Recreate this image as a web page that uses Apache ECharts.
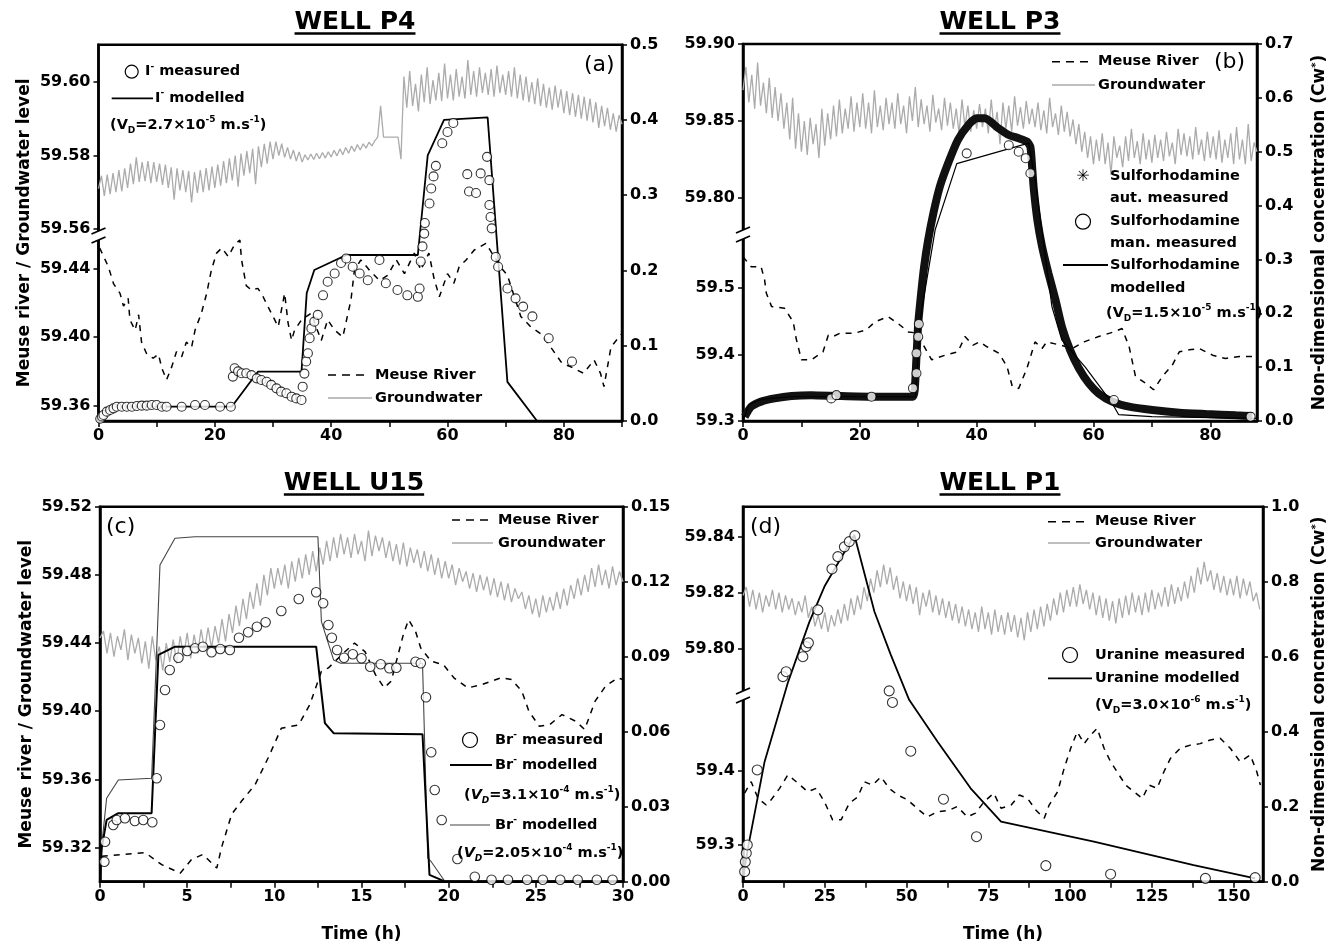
<!DOCTYPE html>
<html>
<head>
<meta charset="utf-8">
<script src="https://cdn.jsdelivr.net/npm/echarts@6/dist/echarts.min.js"></script>
<style>
  html, body { margin: 0; padding: 0; background: #fff; }
  #chart { width: 1337px; height: 949px; }
</style>
</head>
<body>
<div id="chart"></div>
<script>
// ---------- WELL P4 (a) ----------
const gwA_dt = 0.5 // h between groundwater readings
const gwA = [
  59.5710,
  59.5745, 59.5690, 59.5748, 59.5695, 59.5752, 59.5700, 59.5760, 59.5702, 59.5765, 59.5712,
  59.5778, 59.5722, 59.5795, 59.5728, 59.5782, 59.5730, 59.5785, 59.5725, 59.5782, 59.5728,
  59.5778, 59.5720, 59.5775, 59.5712, 59.5768, 59.5680, 59.5765, 59.5705, 59.5760, 59.5700,
  59.5758, 59.5672, 59.5755, 59.5698, 59.5760, 59.5700, 59.5766, 59.5705, 59.5770, 59.5712,
  59.5775, 59.5718, 59.5785, 59.5725, 59.5792, 59.5732, 59.5800, 59.5715, 59.5805, 59.5745,
  59.5812, 59.5752, 59.5818, 59.5722, 59.5825, 59.5768, 59.5832, 59.5778, 59.5838, 59.5790,
  59.5838, 59.5800, 59.5832, 59.5795, 59.5822, 59.5790, 59.5815, 59.5785, 59.5810, 59.5782,
  59.5802, 59.5788, 59.5804, 59.5789, 59.5806, 59.5791, 59.5808, 59.5793, 59.5810, 59.5796,
  59.5814, 59.5799, 59.5818, 59.5802, 59.5822, 59.5806, 59.5826, 59.5811, 59.5830, 59.5815,
  59.5832, 59.5820, 59.5836, 59.5826, 59.5840, 59.5850, 59.5935, 59.5850, 59.5850, 59.5850,
  59.5850, 59.5850, 59.5850, 59.5790, 59.6015, 59.5930, 59.6030, 59.5935, 59.5995, 59.5920,
  59.6020, 59.5945, 59.6040, 59.5940, 59.6005, 59.5950, 59.6025, 59.5948, 59.6050, 59.5955,
  59.6020, 59.5950, 59.6035, 59.5960, 59.6015, 59.5955, 59.6060, 59.5965, 59.6030, 59.5960,
  59.6040, 59.5970, 59.6025, 59.5965, 59.6035, 59.5960, 59.6045, 59.5970, 59.6020, 59.5965,
  59.6030, 59.5960, 59.6040, 59.5955, 59.6020, 59.5950, 59.6015, 59.5945, 59.6000, 59.5940,
  59.6010, 59.5935, 59.5995, 59.5930, 59.5985, 59.5925, 59.5990, 59.5930, 59.5980, 59.5915,
  59.5975, 59.5910, 59.5970, 59.5905, 59.5965, 59.5900, 59.5960, 59.5895, 59.5955, 59.5890,
  59.5945, 59.5875, 59.5935, 59.5880, 59.5930, 59.5870, 59.5915, 59.5865, 59.5910, 59.5885
]
const riverA = [
  [0.2, 59.452], [1.7, 59.441], [2.6, 59.431], [3.7, 59.4255], [4.3, 59.418], [5.1, 59.4226], [5.4, 59.41],
  [6.3, 59.404], [6.9, 59.413], [7.4, 59.397], [8.3, 59.39], [9.4, 59.3876], [10.3, 59.39], [10.9, 59.3817],
  [11.7, 59.375], [12.6, 59.3827], [13.4, 59.3914], [14.3, 59.3885], [15.1, 59.397], [16.0, 59.394],
  [16.6, 59.404], [17.7, 59.414], [18.6, 59.4255], [19.4, 59.439], [20.3, 59.449], [21.2, 59.452],
  [22.3, 59.447], [23.4, 59.454], [24.3, 59.4566], [24.6, 59.445], [25.4, 59.430], [26.3, 59.4274],
  [27.4, 59.4284], [28.3, 59.4235], [29.1, 59.418], [30.0, 59.412], [30.9, 59.406], [32.0, 59.4255],
  [32.6, 59.408], [33.2, 59.398], [33.7, 59.404], [34.9, 59.41], [36.6, 59.414], [37.4, 59.406],
  [38.3, 59.398], [39.4, 59.41], [40.6, 59.404], [42.0, 59.400], [43.4, 59.4216], [44.0, 59.439],
  [45.1, 59.445], [46.6, 59.439], [48.3, 59.433], [49.7, 59.436], [51.2, 59.445], [52.6, 59.437],
  [54.3, 59.449], [55.4, 59.439], [56.8, 59.449], [57.7, 59.434], [58.6, 59.4235], [60.0, 59.437],
  [61.1, 59.4314], [62.0, 59.441], [63.2, 59.445], [64.6, 59.4508], [66.6, 59.4547], [68.0, 59.447],
  [69.1, 59.441], [70.3, 59.436], [72.6, 59.412], [74.3, 59.406], [76.0, 59.402], [77.7, 59.3943],
  [79.7, 59.3846], [81.2, 59.3826], [83.4, 59.3788], [85.2, 59.3866], [86.3, 59.3788], [86.9, 59.371],
  [88.1, 59.394], [89.0, 59.398], [90.0, 59.402]
]
const iodideModelled = [
  [0, 0], [1.5, 0.016], [3, 0.019], [22.9, 0.019], [27.4, 0.0655], [34.9, 0.0655], [35.8, 0.17],
  [37.1, 0.2006], [42.6, 0.2206], [54.9, 0.2206], [56.6, 0.353], [59.4, 0.40], [66.9, 0.4035],
  [70.3, 0.052], [75.4, 0]
]
const iodideMeasured = [
  [0.3, 0.003], [0.6, 0.006], [0.86, 0.008], [1.43, 0.0124], [2.0, 0.0146], [2.57, 0.0168], [3.14, 0.019],
  [4.0, 0.019], [4.87, 0.019], [5.73, 0.019], [6.6, 0.020], [7.44, 0.0204], [8.3, 0.0204], [9.15, 0.0213],
  [10.0, 0.0213], [10.9, 0.019], [11.7, 0.019], [14.3, 0.019], [16.6, 0.0213], [18.3, 0.0213], [20.9, 0.019],
  [22.75, 0.019], [23.1, 0.059], [23.4, 0.07], [24.0, 0.066], [24.6, 0.0634], [25.4, 0.0634], [26.3, 0.061],
  [27.2, 0.0567], [28.0, 0.0545], [28.9, 0.0522], [29.7, 0.048], [30.6, 0.0434], [31.4, 0.039], [32.3, 0.0368],
  [33.2, 0.0323], [34.0, 0.030], [34.9, 0.028], [35.1, 0.0456], [35.4, 0.063], [35.7, 0.079], [36.0, 0.09],
  [36.3, 0.11], [36.6, 0.123], [37.1, 0.132], [37.7, 0.141], [38.6, 0.167], [39.4, 0.185], [40.6, 0.196],
  [41.7, 0.21], [42.6, 0.216], [43.7, 0.205], [44.9, 0.196], [46.3, 0.187], [48.3, 0.214], [49.4, 0.183],
  [51.4, 0.174], [53.1, 0.167], [54.9, 0.165], [55.2, 0.176], [55.4, 0.212], [55.7, 0.232], [56.0, 0.249],
  [56.1, 0.263], [56.9, 0.289], [57.2, 0.309], [57.6, 0.325], [58.0, 0.339], [59.1, 0.369], [60.0, 0.384],
  [61.0, 0.396], [63.4, 0.328], [63.7, 0.305], [64.9, 0.303], [65.7, 0.329], [66.8, 0.351], [67.2, 0.32],
  [67.2, 0.287], [67.4, 0.271], [67.6, 0.256], [68.3, 0.218], [68.7, 0.205], [70.3, 0.176], [71.7, 0.163],
  [73.0, 0.152], [74.6, 0.139], [77.4, 0.11], [81.4, 0.079]
]
const xTicksA = [0, 10, 20, 30, 40, 50, 60, 70, 80, 90]
const xLabelsA = [0, 20, 40, 60, 80]
const upperTicksA = [59.56, 59.58, 59.60]
const lowerTicksA = [59.36, 59.40, 59.44]
const rightTicksA = [0, 0.1, 0.2, 0.3, 0.4, 0.5]

// ---------- WELL P3 (b) ----------
const gwB_dt = 0.5
const gwB = [
  59.870,
  59.885, 59.862, 59.880, 59.858, 59.888, 59.860, 59.875, 59.855, 59.878, 59.852,
  59.872, 59.850, 59.868, 59.845, 59.862, 59.838, 59.865, 59.832, 59.855, 59.830,
  59.850, 59.828, 59.852, 59.835, 59.848, 59.826, 59.858, 59.834, 59.855, 59.838,
  59.860, 59.840, 59.864, 59.842, 59.858, 59.845, 59.866, 59.843, 59.862, 59.846,
  59.868, 59.845, 59.862, 59.842, 59.870, 59.846, 59.860, 59.844, 59.865, 59.848,
  59.862, 59.845, 59.868, 59.848, 59.860, 59.842, 59.866, 59.850, 59.872, 59.846,
  59.864, 59.848, 59.860, 59.843, 59.867, 59.849, 59.858, 59.844, 59.865, 59.847,
  59.862, 59.845, 59.858, 59.842, 59.864, 59.846, 59.860, 59.843, 59.857, 59.845,
  59.861, 59.846, 59.858, 59.842, 59.864, 59.844, 59.856, 59.835, 59.862, 59.845,
  59.860, 59.843, 59.866, 59.847, 59.859, 59.845, 59.863, 59.848, 59.858, 59.846,
  59.862, 59.844, 59.857, 59.842, 59.865, 59.846, 59.855, 59.841, 59.860, 59.843,
  59.856, 59.840, 59.851, 59.835, 59.848, 59.830, 59.843, 59.826, 59.840, 59.822,
  59.838, 59.824, 59.842, 59.822, 59.836, 59.815, 59.840, 59.826, 59.834, 59.820,
  59.840, 59.824, 59.845, 59.826, 59.837, 59.822, 59.842, 59.825, 59.838, 59.823,
  59.841, 59.826, 59.838, 59.824, 59.843, 59.827, 59.836, 59.822, 59.845, 59.828,
  59.842, 59.827, 59.840, 59.825, 59.846, 59.828, 59.838, 59.824, 59.843, 59.826,
  59.840, 59.825, 59.844, 59.823, 59.838, 59.826, 59.842, 59.822, 59.846, 59.825,
  59.838, 59.822, 59.848, 59.824, 59.836, 59.830
]
const riverB = [
  [0, 59.547], [1.4, 59.532], [3.1, 59.532], [3.7, 59.512], [4.0, 59.492], [4.9, 59.472], [7.1, 59.4695],
  [8.6, 59.449], [9.1, 59.424], [10.0, 59.392], [11.7, 59.392], [13.7, 59.404], [14.6, 59.429], [15.4, 59.427],
  [16.6, 59.432], [19.1, 59.432], [21.1, 59.437], [22.6, 59.449], [24.8, 59.457], [26.5, 59.447], [28.3, 59.434],
  [30.0, 59.432], [30.9, 59.414], [32.3, 59.392], [34.6, 59.399], [36.8, 59.404], [38.0, 59.427], [39.4, 59.414],
  [40.5, 59.419], [41.7, 59.412], [43.8, 59.402], [45.2, 59.382], [46.1, 59.352], [47.2, 59.349], [48.6, 59.379],
  [50.0, 59.419], [51.2, 59.409], [52.0, 59.419], [54.4, 59.414], [56.4, 59.409], [58.4, 59.419], [60.9, 59.427],
  [63.5, 59.434], [64.9, 59.439], [66.1, 59.412], [67.2, 59.367], [68.9, 59.357], [70.3, 59.347], [71.8, 59.367],
  [73.5, 59.384], [74.7, 59.404], [76.4, 59.407], [78.1, 59.409], [80.4, 59.399], [82.6, 59.394], [85.0, 59.397],
  [88.0, 59.397]
]
const sulfoAutMeasured = [
  [0.3, 0.008], [1.4, 0.0266], [3.1, 0.036], [5.4, 0.042], [8.3, 0.0464], [11.7, 0.048], [16.3, 0.0464],
  [22.0, 0.045], [29.1, 0.045], [29.4, 0.0576], [29.7, 0.119], [30.0, 0.181], [30.5, 0.237], [31.0, 0.286],
  [31.7, 0.336], [32.6, 0.386], [33.7, 0.435], [35.1, 0.478], [36.8, 0.522], [38.6, 0.55], [40.0, 0.562],
  [41.4, 0.562], [43.8, 0.543], [45.5, 0.531], [47.2, 0.525], [48.6, 0.519], [49.2, 0.509], [49.5, 0.472],
  [49.8, 0.429], [50.4, 0.373], [51.2, 0.324], [52.3, 0.274], [53.5, 0.225], [54.6, 0.175], [56.0, 0.132],
  [57.5, 0.098], [59.2, 0.07], [60.9, 0.051], [63.2, 0.036], [66.1, 0.0266], [70.1, 0.0204], [74.7, 0.0155],
  [79.3, 0.013], [84.4, 0.0105], [87.2, 0.0093]
]
const sulfoManMeasured = [
  [15.1, 0.042], [16.0, 0.048], [22.0, 0.045], [29.1, 0.061], [29.7, 0.0886], [29.7, 0.1257], [30.0, 0.1565],
  [30.1, 0.18], [38.3, 0.497], [45.5, 0.512], [47.2, 0.5], [48.4, 0.488], [49.2, 0.46], [63.5, 0.039], [86.9, 0.008]
]
const sulfoModelled = [
  [0, 0], [1, 0.03], [3, 0.04], [8, 0.045], [29.5, 0.045], [30.5, 0.2], [32.9, 0.355], [36.6, 0.478],
  [48.9, 0.516], [50, 0.45], [52.9, 0.212], [54.6, 0.15], [58.6, 0.1], [63.2, 0.033], [64.3, 0.012],
  [70, 0.008], [88, 0.005]
]
const xTicksB = [0, 10, 20, 30, 40, 50, 60, 70, 80]
const xLabelsB = [0, 20, 40, 60, 80]
const upperTicksB = [59.80, 59.85, 59.90]
const lowerTicksB = [59.3, 59.4, 59.5]
const rightTicksB = [0, 0.1, 0.2, 0.3, 0.4, 0.5, 0.6, 0.7]

// ---------- WELL U15 (c) ----------
const gwC_dt = 0.2
const gwC = [
  59.443,
  59.447, 59.434, 59.446, 59.432, 59.444, 59.436, 59.448, 59.430, 59.445, 59.434,
  59.443, 59.428, 59.441, 59.425, 59.444, 59.430, 59.438, 59.424, 59.440, 59.429,
  59.442, 59.428, 59.444, 59.432, 59.446, 59.431, 59.445, 59.434, 59.448, 59.436,
  59.449, 59.437, 59.450, 59.440, 59.454, 59.441, 59.457, 59.446, 59.462, 59.450,
  59.466, 59.454, 59.470, 59.460, 59.475, 59.462, 59.480, 59.468, 59.484, 59.472,
  59.484, 59.474, 59.486, 59.472, 59.488, 59.476, 59.490, 59.478, 59.492, 59.480,
  59.494, 59.482, 59.496, 59.486, 59.500, 59.488, 59.502, 59.490, 59.504, 59.492,
  59.502, 59.490, 59.504, 59.492, 59.500, 59.488, 59.506, 59.491, 59.503, 59.494,
  59.502, 59.490, 59.500, 59.488, 59.498, 59.486, 59.499, 59.485, 59.496, 59.487,
  59.495, 59.484, 59.494, 59.482, 59.492, 59.480, 59.490, 59.478, 59.488, 59.478,
  59.486, 59.474, 59.484, 59.476, 59.482, 59.472, 59.481, 59.470, 59.480, 59.471,
  59.479, 59.468, 59.478, 59.467, 59.476, 59.465, 59.475, 59.464, 59.472, 59.466,
  59.470, 59.460, 59.468, 59.457, 59.466, 59.455, 59.468, 59.458, 59.467, 59.459,
  59.470, 59.460, 59.472, 59.462, 59.474, 59.466, 59.478, 59.468, 59.480, 59.470,
  59.484, 59.473, 59.486, 59.474, 59.483, 59.472, 59.485, 59.474, 59.482, 59.476
]
const riverC = [
  [0.1, 59.315], [2.6, 59.317], [3.54, 59.310], [4.6, 59.305], [5.25, 59.313], [5.9, 59.316], [6.7, 59.308],
  [6.97, 59.32], [7.55, 59.3395], [8.1, 59.347], [8.9, 59.357], [9.65, 59.3727], [10.4, 59.390], [11.4, 59.392],
  [12.04, 59.404], [12.7, 59.4234], [13.1, 59.4254], [13.85, 59.433], [14.6, 59.44], [15.2, 59.435],
  [15.8, 59.4215], [16.3, 59.4137], [16.7, 59.4176], [17.1, 59.4332], [17.4, 59.445], [17.7, 59.4537],
  [18.1, 59.4469], [18.4, 59.4371], [19.0, 59.4293], [19.7, 59.4273], [20.3, 59.4196], [21.1, 59.4137],
  [21.9, 59.4156], [23.0, 59.4196], [23.6, 59.4186], [24.2, 59.4117], [24.6, 59.400], [25.2, 59.3912],
  [25.8, 59.3922], [26.5, 59.398], [27.3, 59.3941], [27.8, 59.3893], [28.4, 59.4059], [29.0, 59.4147],
  [29.7, 59.4196], [30.0, 59.4186]
]
const bromideMeasured = [
  [0.25, 0.008], [0.29, 0.016], [0.76, 0.0227], [0.96, 0.0247], [1.43, 0.0254], [2.0, 0.0243], [2.48, 0.0247],
  [3.0, 0.0238], [3.25, 0.0414], [3.44, 0.0627], [3.73, 0.0767], [4.0, 0.0847], [4.5, 0.0896], [5.0, 0.0923],
  [5.45, 0.0934], [5.9, 0.094], [6.4, 0.0918], [6.9, 0.0931], [7.45, 0.0927], [7.97, 0.0976], [8.5, 0.0998],
  [9.0, 0.102], [9.5, 0.1038], [10.4, 0.1083], [11.4, 0.1131], [12.4, 0.1158], [12.8, 0.1114], [13.1, 0.1027],
  [13.3, 0.0976], [13.6, 0.0927], [14.0, 0.0896], [14.5, 0.091], [15.0, 0.0894], [15.5, 0.086], [16.1, 0.087],
  [16.6, 0.0854], [17.0, 0.0856], [18.1, 0.088], [18.4, 0.0874], [18.7, 0.0738], [19.0, 0.0518], [19.2, 0.0367],
  [19.6, 0.0247], [20.5, 0.0091], [21.5, 0.002], [22.46, 0.0008], [23.4, 0.0008], [24.5, 0.0008], [25.4, 0.0008],
  [26.4, 0.0008], [27.4, 0.0008], [28.5, 0.0008], [29.4, 0.0008]
]
const bromideModelledFast = [ // V_D = 3.1e-4
  [0, 0.002], [0.1, 0.0134], [0.38, 0.0247], [1.05, 0.0274], [2.96, 0.0274], [3.35, 0.0907], [4.3, 0.094],
  [12.4, 0.094], [12.9, 0.0634], [13.4, 0.0594], [18.5, 0.059], [18.9, 0.0027], [19.8, 0], [30, 0]
]
const bromideModelledSlow = [ // V_D = 2.05e-4
  [0, 0.002], [0.1, 0.0147], [0.38, 0.0334], [1.05, 0.0407], [2.96, 0.0414], [3.15, 0.0747], [3.44, 0.1267],
  [4.3, 0.1374], [5.45, 0.138], [12.5, 0.138], [12.7, 0.104], [13.4, 0.0887], [13.8, 0.0874], [18.5, 0.0874],
  [18.8, 0.0094], [19.0, 0.008], [19.8, 0]
]
const xTicksC = [0, 2.5, 5, 7.5, 10, 12.5, 15, 17.5, 20, 22.5, 25, 27.5, 30]
const xLabelsC = [0, 5, 10, 15, 20, 25, 30]
const leftTicksC = [59.32, 59.36, 59.40, 59.44, 59.48, 59.52]
const rightTicksC = [0, 0.03, 0.06, 0.09, 0.12, 0.15]

// ---------- WELL P1 (d) ----------
const gwD_dt = 1
const gwD = [
  59.819,
  59.822, 59.815, 59.821, 59.814, 59.820, 59.813, 59.819, 59.815, 59.821, 59.814,
  59.820, 59.813, 59.819, 59.814, 59.818, 59.812, 59.817, 59.813, 59.819, 59.811,
  59.815, 59.808, 59.812, 59.807, 59.813, 59.806, 59.812, 59.808, 59.814, 59.809,
  59.816, 59.810, 59.818, 59.812, 59.819, 59.814, 59.822, 59.817, 59.825, 59.820,
  59.828, 59.822, 59.830, 59.823, 59.829, 59.821, 59.826, 59.818, 59.824, 59.817,
  59.823, 59.816, 59.822, 59.812, 59.820, 59.815, 59.821, 59.813, 59.819, 59.812,
  59.818, 59.811, 59.817, 59.810, 59.816, 59.809, 59.815, 59.808, 59.814, 59.807,
  59.813, 59.806, 59.815, 59.807, 59.813, 59.805, 59.814, 59.806, 59.812, 59.805,
  59.813, 59.806, 59.812, 59.804, 59.811, 59.803, 59.813, 59.806, 59.814, 59.807,
  59.815, 59.808, 59.816, 59.810, 59.818, 59.812, 59.820, 59.813, 59.821, 59.815,
  59.822, 59.815, 59.823, 59.816, 59.821, 59.814, 59.820, 59.812, 59.819, 59.811,
  59.818, 59.810, 59.817, 59.809, 59.818, 59.811, 59.819, 59.812, 59.820, 59.813,
  59.819, 59.812, 59.820, 59.813, 59.821, 59.814, 59.820, 59.815, 59.822, 59.815,
  59.823, 59.816, 59.822, 59.817, 59.824, 59.818, 59.826, 59.820, 59.829, 59.823,
  59.831, 59.824, 59.828, 59.821, 59.827, 59.820, 59.826, 59.819, 59.825, 59.819,
  59.826, 59.818, 59.825, 59.819, 59.824, 59.817, 59.820, 59.814
]
const riverD = [
  [0.5, 59.37], [2.5, 59.3855], [4.6, 59.363], [7.1, 59.354], [8.6, 59.361], [11.2, 59.3766], [13.7, 59.3946],
  [16.3, 59.3855], [19.8, 59.372], [22.4, 59.3766], [24.9, 59.3585], [27.4, 59.334], [30.0, 59.334],
  [32.5, 59.3564], [35.1, 59.365], [37.1, 59.3855], [39.6, 59.381], [42.2, 59.392], [44.7, 59.3766],
  [47.3, 59.3676], [50.3, 59.361], [53.9, 59.347], [56.4, 59.338], [59.5, 59.345], [63.0, 59.347],
  [65.5, 59.352], [68.6, 59.338], [71.1, 59.343], [73.7, 59.3585], [76.7, 59.37], [78.9, 59.3496],
  [82.0, 59.354], [84.5, 59.3676], [87.0, 59.363], [89.6, 59.347], [92.1, 59.336], [93.6, 59.354],
  [96.2, 59.372], [98.2, 59.4036], [100.2, 59.4307], [102.2, 59.453], [104.3, 59.437], [106.3, 59.4486],
  [108.3, 59.4577], [110.4, 59.4307], [112.4, 59.4126], [115.0, 59.3946], [117.0, 59.381], [119.5, 59.372],
  [122.1, 59.363], [124.1, 59.381], [126.6, 59.3766], [128.7, 59.399], [130.7, 59.417], [133.7, 59.4307],
  [136.8, 59.435], [139.8, 59.437], [142.9, 59.442], [145.9, 59.4443], [149.0, 59.4307], [152.0, 59.4126],
  [155.1, 59.4216], [157.1, 59.399], [158.2, 59.381]
]
const uranineMeasured = [
  [0.5, 0.027], [0.7, 0.053], [1.0, 0.076], [1.3, 0.098], [4.35, 0.298], [12.2, 0.547], [13.2, 0.56],
  [18.3, 0.60], [19.3, 0.627], [20.0, 0.637], [22.9, 0.725], [27.2, 0.834], [29.0, 0.867], [31.0, 0.893],
  [32.5, 0.907], [34.2, 0.923], [44.7, 0.509], [45.7, 0.478], [51.3, 0.348], [61.3, 0.22], [71.4, 0.12],
  [92.6, 0.043], [112.4, 0.02], [141.4, 0.009], [156.6, 0.011]
]
const uranineModelled = [
  [0, 0.009], [1.5, 0.089], [6.6, 0.32], [13.8, 0.533], [20.3, 0.693], [24.9, 0.787], [34.05, 0.9245],
  [40.2, 0.72], [45.2, 0.605], [50.8, 0.485], [59.5, 0.373], [69.6, 0.249], [78.9, 0.16], [107.3, 0.107],
  [137.8, 0.0445], [156.6, 0.009]
]
const xTicksD = [0, 12.5, 25, 37.5, 50, 62.5, 75, 87.5, 100, 112.5, 125, 137.5, 150]
const xLabelsD = [0, 25, 50, 75, 100, 125, 150]
const upperTicksD = [59.80, 59.82, 59.84]
const lowerTicksD = [59.3, 59.4]
const rightTicksD = [0, 0.2, 0.4, 0.6, 0.8, 1.0]

// ---------- styling helpers ----------
const F = 'DejaVu Sans'
const LBL = { color: '#000', fontFamily: F, fontWeight: 'bold', fontSize: 16 }
const NAME = { color: '#000', fontFamily: F, fontWeight: 'bold', fontSize: 17,
  rich: { sup: { color: '#000', fontFamily: F, fontWeight: 'bold', fontSize: 10, lineHeight: 10, verticalAlign: 'top' } } }

function xAxisFor(g, max, ticks, labels, name) {
  return {
    gridIndex: g, type: 'value', min: 0, max: max,
    axisLine: { onZero: false, lineStyle: { color: '#000', width: 2.5 } },
    axisTick: { length: 6, lineStyle: { color: '#000', width: 1.5 }, customValues: ticks },
    axisLabel: Object.assign({ customValues: labels, margin: 7 }, LBL),
    splitLine: { show: false },
    name: name || '', nameLocation: 'middle', nameGap: 44, nameTextStyle: NAME
  }
}
function yAxisFor(g, pos, min, max, ticks, dec, showLine, name, nameGap) {
  return {
    gridIndex: g, type: 'value', position: pos, min: min, max: max,
    axisLine: { show: showLine, onZero: false, lineStyle: { color: '#000', width: 2.5 } },
    axisTick: { length: 5, lineStyle: { color: '#000', width: 1.5 }, customValues: ticks },
    axisLabel: Object.assign({ customValues: ticks, margin: 8, formatter: v => Number(v).toFixed(dec) }, LBL),
    splitLine: { show: false },
    name: name || '', nameLocation: 'middle', nameGap: nameGap || 60, nameTextStyle: NAME
  }
}
function gwSeries(g, y, vals, dt) {
  return { type: 'line', xAxisIndex: g, yAxisIndex: y, data: vals.map((v, i) => [i * dt, v]),
    symbol: 'none', lineStyle: { color: '#ababab', width: 1.3 }, z: 1, silent: true, animation: false }
}
function riverSeries(g, y, data) {
  return { type: 'line', xAxisIndex: g, yAxisIndex: y, data: data, symbol: 'none',
    lineStyle: { color: '#000', width: 1.5, type: [6, 6] }, z: 2, animation: false }
}
function modelSeries(g, y, data, w, color, smooth) {
  return { type: 'line', xAxisIndex: g, yAxisIndex: y, data: data, symbol: 'none', smooth: smooth || false,
    lineStyle: { color: color || '#000', width: w }, z: 3, animation: false }
}
function measSeries(g, y, data, size) {
  return { type: 'scatter', xAxisIndex: g, yAxisIndex: y, data: data, symbol: 'circle', symbolSize: size,
    itemStyle: { color: '#fff', borderColor: '#000', borderWidth: 1.1 }, z: 4, animation: false }
}

const gridBox = { show: true, borderColor: '#000', borderWidth: 2.5, backgroundColor: 'transparent' }
const grids = [
  Object.assign({ left: 98.5, top: 44.7, width: 523.5, height: 376.3 }, gridBox),
  Object.assign({ left: 743, top: 44, width: 514, height: 377 }, gridBox),
  Object.assign({ left: 100, top: 506.7, width: 523, height: 375 }, gridBox),
  Object.assign({ left: 743, top: 506.7, width: 520, height: 375 }, gridBox)
]

const leftName = 'Meuse river / Groundwater level'
const yAxes = [
  // (a) 0,1,2
  yAxisFor(0, 'left', 59.50776, 59.61015, upperTicksA, 2, true, leftName, 65),
  yAxisFor(0, 'left', 59.35095, 59.57069, lowerTicksA, 2, false),
  yAxisFor(0, 'right', 0, 0.5, rightTicksA, 1, true),
  // (b) 3,4,5
  yAxisFor(1, 'left', 59.6552, 59.90, upperTicksB, 2, true),
  yAxisFor(1, 'left', 59.3, 59.8669, lowerTicksB, 1, false),
  yAxisFor(1, 'right', 0, 0.7, rightTicksB, 1, true, 'Non-dimensional concentration (Cw{sup|*})', 54),
  // (c) 6,7
  yAxisFor(2, 'left', 59.30, 59.52, leftTicksC, 2, true, leftName, 65),
  yAxisFor(2, 'right', 0, 0.15, rightTicksC, 2, true),
  // (d) 8,9,10
  yAxisFor(3, 'left', 59.71679, 59.85071, upperTicksD, 2, true),
  yAxisFor(3, 'left', 59.2504, 59.7572, lowerTicksD, 1, false),
  yAxisFor(3, 'right', 0, 1.0, rightTicksD, 1, true, 'Non-dimensional concnetration (Cw{sup|*})', 48)
]
const xAxes = [
  xAxisFor(0, 90, xTicksA, xLabelsA),
  xAxisFor(1, 88, xTicksB, xLabelsB),
  xAxisFor(2, 30, xTicksC, xLabelsC, 'Time (h)'),
  xAxisFor(3, 159, xTicksD, xLabelsD, 'Time (h)')
]

const series = [
  gwSeries(0, 0, gwA, gwA_dt),
  riverSeries(0, 1, riverA),
  modelSeries(0, 2, iodideModelled, 1.8),
  measSeries(0, 2, iodideMeasured, 9),

  gwSeries(1, 3, gwB, gwB_dt),
  riverSeries(1, 4, riverB),
  modelSeries(1, 5, sulfoAutMeasured, 8, '#111', 0.2),
  modelSeries(1, 5, sulfoModelled, 1.2, '#000'),
  measSeries(1, 5, sulfoManMeasured, 9),

  gwSeries(2, 6, gwC, gwC_dt),
  riverSeries(2, 6, riverC),
  modelSeries(2, 7, bromideModelledSlow, 1.1, '#444'),
  modelSeries(2, 7, bromideModelledFast, 2),
  measSeries(2, 7, bromideMeasured, 9.5),

  gwSeries(3, 8, gwD, gwD_dt),
  riverSeries(3, 9, riverD),
  modelSeries(3, 10, uranineModelled, 1.8),
  measSeries(3, 10, uranineMeasured, 10)
]

// ---------- annotations: titles, legends, axis breaks ----------
const LS = 14.5 // legend font size
const RICH = {
  b: { fill: '#000', fontFamily: F, fontWeight: 'bold', fontSize: LS, lineHeight: 20 },
  i: { fill: '#000', fontFamily: F, fontWeight: 'bold', fontStyle: 'italic', fontSize: LS, lineHeight: 20 },
  sup: { fill: '#000', fontFamily: F, fontWeight: 'bold', fontSize: 9, lineHeight: 10, verticalAlign: 'top' },
  sub: { fill: '#000', fontFamily: F, fontWeight: 'bold', fontSize: 9, lineHeight: 10, verticalAlign: 'bottom' },
  subi: { fill: '#000', fontFamily: F, fontWeight: 'bold', fontStyle: 'italic', fontSize: 9, lineHeight: 10, verticalAlign: 'bottom' }
}
function rt(x, y, text) {
  return { type: 'text', x: x, y: y, z: 100,
    style: { text: text, rich: RICH, fill: '#000', font: 'bold ' + LS + 'px "DejaVu Sans"', align: 'left', verticalAlign: 'middle' } }
}
function plain(x, y, text, font, align) {
  return { type: 'text', x: x, y: y, z: 100,
    style: { text: text, fill: '#000', font: font, align: align || 'left', verticalAlign: 'middle' } }
}
function seg(x1, y1, x2, y2, w, color, dash) {
  const st = { stroke: color || '#000', lineWidth: w }
  if (dash) st.lineDash = dash
  return { type: 'line', z: 100, shape: { x1: x1, y1: y1, x2: x2, y2: y2 }, style: st }
}
function ring(cx, cy, r) {
  return { type: 'circle', z: 100, shape: { cx: cx, cy: cy, r: r }, style: { fill: '#fff', stroke: '#000', lineWidth: 1.2 } }
}
const measureCtx = document.createElement('canvas').getContext('2d')
function title(cx, cy, s) {
  const font = 'bold 25px "DejaVu Sans"'
  measureCtx.font = font
  const w = measureCtx.measureText(s).width
  return [plain(cx, cy, s, font, 'center'), seg(cx - w / 2, cy + 11, cx + w / 2, cy + 11, 2.5)]
}
function axisBreak(x, top, bottom) {
  return [
    { type: 'rect', z: 99, shape: { x: x - 3, y: top, width: 6, height: bottom - top }, style: { fill: '#fff' } },
    seg(x - 7, top + 3, x + 7, top - 3, 1.8),
    seg(x - 7, bottom + 3, x + 7, bottom - 3, 1.8)
  ]
}
const LETTER = '22px "DejaVu Sans"'
const vd = (num, exp) => '{b|(V}{sub|D}{b|=' + num + '×10}{sup|-' + exp + '}{b| m.s}{sup|-1}{b|)}'
const vdi = (num, exp) => '{b|(}{i|V}{subi|D}{b|=' + num + '×10}{sup|-' + exp + '}{b| m.s}{sup|-1}{b|)}'

const elements = [].concat(
  title(355, 22.5, 'WELL P4'), title(1000, 22.5, 'WELL P3'),
  title(354, 483.5, 'WELL U15'), title(1000, 483.5, 'WELL P1'),
  axisBreak(98.5, 231, 240), axisBreak(743, 230, 239), axisBreak(743, 691, 700),
  [
    // (a)
    plain(584, 65, '(a)', LETTER),
    ring(131.7, 71.7, 6.5), rt(145, 71.7, '{b|I}{sup|-}{b| measured}'),
    seg(111.7, 98.3, 153, 98.3, 1.8), rt(155, 98.3, '{b|I}{sup|-}{b| modelled}'),
    rt(110, 125, vd('2.7', '5')),
    seg(328, 375, 370, 375, 1.5, '#000', [8, 6]), rt(375, 375, '{b|Meuse River}'),
    seg(328, 398, 372, 398, 1.5, '#a9a9a9'), rt(375, 398, '{b|Groundwater}'),
    // (b)
    plain(1214, 62, '(b)', LETTER),
    seg(1052, 61.7, 1092, 61.7, 1.5, '#000', [8, 6]), rt(1098, 61.7, '{b|Meuse River}'),
    seg(1052, 85, 1095, 85, 1.5, '#a9a9a9'), rt(1098, 85, '{b|Groundwater}'),
    plain(1083, 177, '✳', '16px "DejaVu Sans"', 'center'),
    rt(1110, 176.7, '{b|Sulforhodamine}'), rt(1110, 198.3, '{b|aut. measured}'),
    ring(1083, 221.7, 7.5),
    rt(1110, 221.7, '{b|Sulforhodamine}'), rt(1110, 243.3, '{b|man. measured}'),
    seg(1063, 265, 1108, 265, 1.8), rt(1110, 265, '{b|Sulforhodamine}'), rt(1110, 288.3, '{b|modelled}'),
    rt(1106, 313.3, vd('1.5', '5')),
    // (c)
    plain(106, 527, '(c)', LETTER),
    seg(452, 520, 490, 520, 1.5, '#000', [8, 6]), rt(498, 520, '{b|Meuse River}'),
    seg(452, 543, 493, 543, 1.5, '#a9a9a9'), rt(498, 543, '{b|Groundwater}'),
    ring(470, 740, 7.5), rt(495, 740, '{b|Br}{sup|-}{b| measured}'),
    seg(450, 765, 492, 765, 2), rt(495, 765, '{b|Br}{sup|-}{b| modelled}'),
    rt(464, 795, vdi('3.1', '4')),
    seg(450, 825, 490, 825, 1.1, '#444'), rt(495, 825, '{b|Br}{sup|-}{b| modelled}'),
    rt(457, 853, vdi('2.05', '4')),
    // (d)
    plain(750, 527, '(d)', LETTER),
    seg(1048, 521.7, 1088, 521.7, 1.5, '#000', [8, 6]), rt(1095, 521.7, '{b|Meuse River}'),
    seg(1048, 543, 1090, 543, 1.5, '#a9a9a9'), rt(1095, 543, '{b|Groundwater}'),
    ring(1070, 655, 7.5), rt(1095, 655, '{b|Uranine measured}'),
    seg(1048, 678.3, 1092, 678.3, 1.8), rt(1095, 678.3, '{b|Uranine modelled}'),
    rt(1095, 705, vd('3.0', '6'))
  ]
)

const chart = echarts.init(document.getElementById('chart'))
chart.setOption({
  animation: false,
  backgroundColor: '#fff',
  grid: grids,
  xAxis: xAxes,
  yAxis: yAxes,
  series: series,
  graphic: { elements: elements }
})
</script>
</body>
</html>
